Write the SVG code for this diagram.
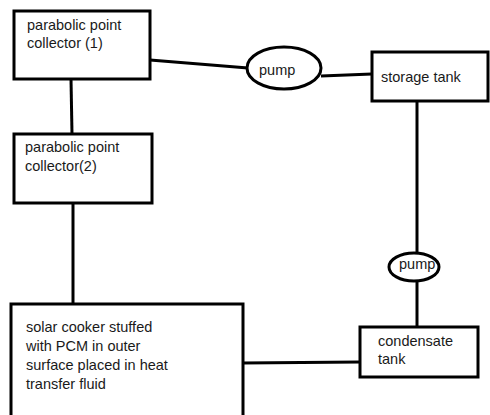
<svg xmlns="http://www.w3.org/2000/svg" width="490" height="415" viewBox="0 0 490 415">
<style>
.box{fill:#fff;stroke:#000;stroke-width:3}
.ln{fill:none;stroke:#000;stroke-width:3}
text{font-family:"Liberation Sans",Arial,sans-serif;font-size:14.5px;fill:#1a1a1a}
</style>
<rect width="490" height="415" fill="#fff"/>
<g id="connectors">
<line class="ln" x1="71" y1="79" x2="72" y2="134"/>
<line class="ln" x1="150" y1="60" x2="248" y2="68"/>
<line class="ln" x1="321" y1="76" x2="372" y2="74"/>
<line class="ln" x1="417" y1="101" x2="417" y2="253"/>
<line class="ln" x1="417" y1="281" x2="417" y2="327"/>
<line class="ln" x1="73" y1="203" x2="73" y2="304"/>
<line class="ln" x1="243" y1="363" x2="360" y2="362"/>
</g>
<g id="collector1">
<rect class="box" x="14" y="11" width="136" height="68"/>
<text x="27" y="30">parabolic point</text>
<text x="27" y="48">collector (1)</text>
</g>
<g id="collector2">
<rect class="box" x="14" y="134" width="138" height="69"/>
<text x="25" y="152">parabolic point</text>
<text x="25" y="171">collector(2)</text>
</g>
<g id="pump1">
<ellipse class="box" cx="284" cy="68" rx="37" ry="21"/>
<text x="259" y="75">pump</text>
</g>
<g id="storage">
<rect class="box" x="372" y="52" width="116" height="49"/>
<text x="381" y="82">storage tank</text>
</g>
<g id="pump2">
<ellipse class="box" cx="414" cy="267" rx="25" ry="14"/>
<text x="399" y="269">pump</text>
</g>
<g id="condensate">
<rect class="box" x="360" y="327" width="118" height="50"/>
<text x="378" y="346">condensate</text>
<text x="378" y="364">tank</text>
</g>
<g id="cooker">
<path class="box" d="M11,417 V304 H243 V417"/>
<text x="26" y="332">solar cooker stuffed</text>
<text x="26" y="351">with PCM in outer</text>
<text x="26" y="370">surface placed in heat</text>
<text x="26" y="389">transfer fluid</text>
</g>
</svg>
